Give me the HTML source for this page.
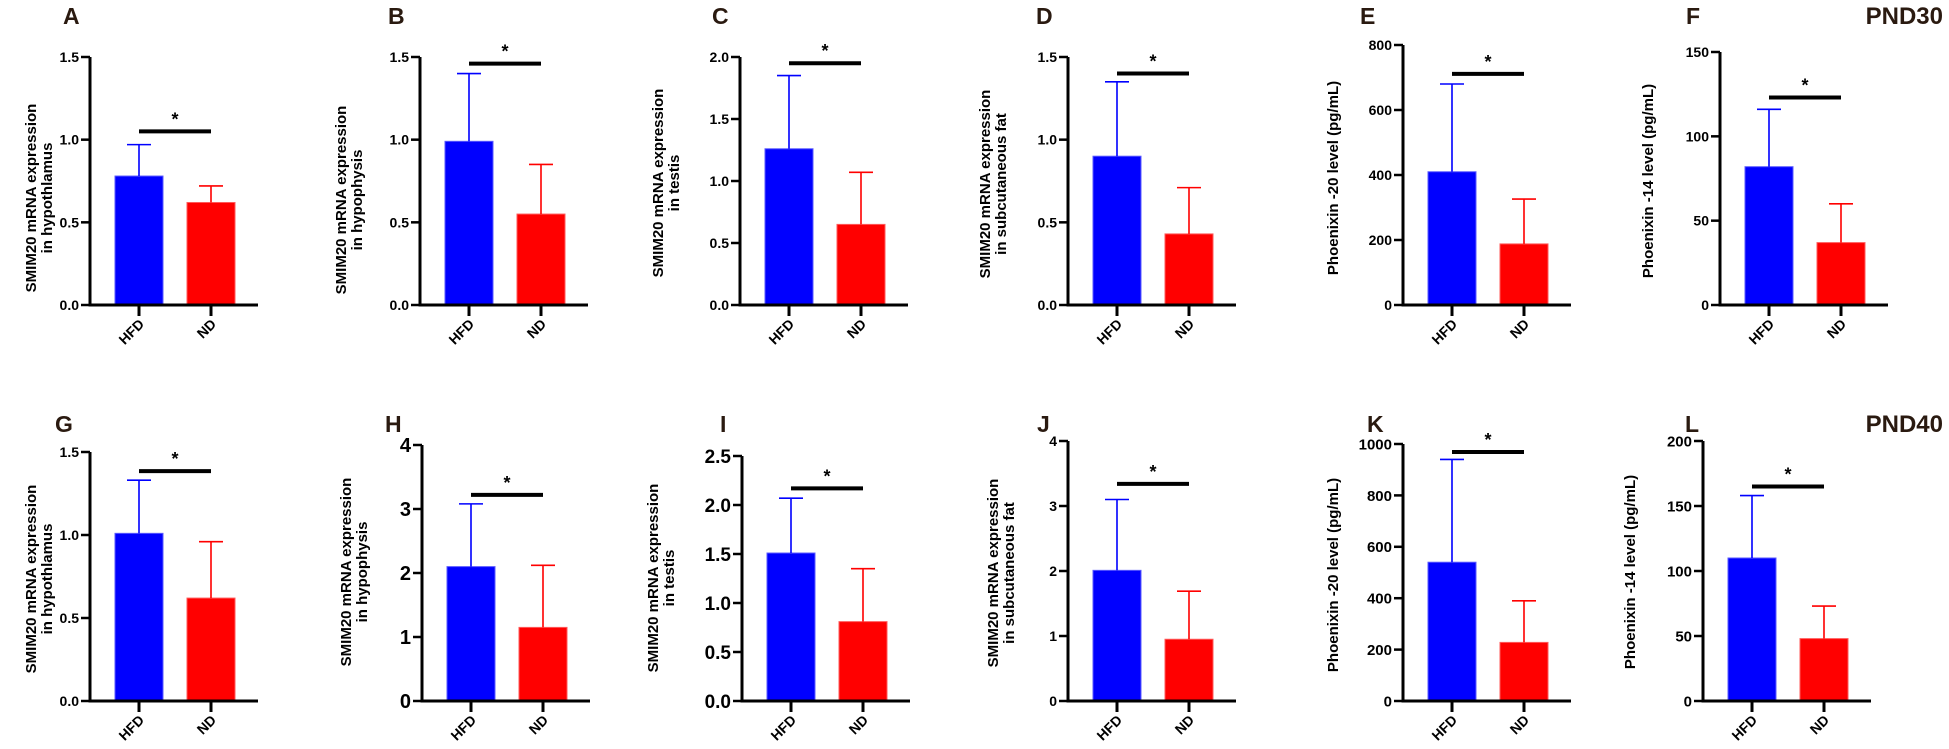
<!DOCTYPE html>
<html><head><meta charset="utf-8">
<style>
html,body{margin:0;padding:0;background:#fff;}
svg{display:block;font-family:"Liberation Sans",Arial,sans-serif;}
</style></head>
<body>
<svg id="fig" width="1949" height="749" viewBox="0 0 1949 749" xmlns="http://www.w3.org/2000/svg"></svg>
<script>
// ---- data ----
const panelLetters = ["A","B","C","D","E","F","G","H","I","J","K","L"];
const categories = ["HFD","ND"];
const yMaxValues = [1.5,1.5,2.0,1.5,800,150,1.5,4,2.5,4,1000,200];
const yTickValues = [
 [0,0.5,1,1.5],[0,0.5,1,1.5],[0,0.5,1,1.5,2],[0,0.5,1,1.5],[0,200,400,600,800],[0,50,100,150],
 [0,0.5,1,1.5],[0,1,2,3,4],[0,0.5,1,1.5,2,2.5],[0,1,2,3,4],[0,200,400,600,800,1000],[0,50,100,150,200]];
const yTickLabels = [
 ["0.0","0.5","1.0","1.5"],["0.0","0.5","1.0","1.5"],["0.0","0.5","1.0","1.5","2.0"],["0.0","0.5","1.0","1.5"],["0","200","400","600","800"],["0","50","100","150"],
 ["0.0","0.5","1.0","1.5"],["0","1","2","3","4"],["0.0","0.5","1.0","1.5","2.0","2.5"],["0","1","2","3","4"],["0","200","400","600","800","1000"],["0","50","100","150","200"]];
const hfdMean = [0.78,0.99,1.26,0.90,410,82, 1.01,2.10,1.51,2.01,540,110];
const hfdErr  = [0.97,1.40,1.85,1.35,680,116, 1.33,3.08,2.07,3.10,940,158];
const ndMean  = [0.62,0.55,0.65,0.43,188,37, 0.62,1.15,0.81,0.95,228,48];
const ndErr   = [0.72,0.85,1.07,0.71,326,60, 0.96,2.12,1.35,1.69,390,73];
const sigLevel = [1.05,1.46,1.95,1.40,711,123, 1.385,3.22,2.17,3.34,969,165];
const titleLine1 = ["SMIM20 mRNA expression","SMIM20 mRNA expression","SMIM20 mRNA expression","SMIM20 mRNA expression","Phoenixin -20 level  (pg/mL)","Phoenixin -14 level  (pg/mL)",
 "SMIM20 mRNA expression","SMIM20 mRNA expression","SMIM20 mRNA expression","SMIM20 mRNA expression","Phoenixin -20 level  (pg/mL)","Phoenixin -14 level  (pg/mL)"];
const titleLine2 = ["in hypothlamus","in hypophysis","in testis","in subcutaneous fat","","",
 "in hypothlamus","in hypophysis","in  testis","in subcutaneous fat","",""];

// ---- layout (not data) ----
const axisXs = [90,420,740,1068,1403,1720, 90,422,742,1068,1403,1703];
const topYs = [57,57,57,57,45,52, 452,445,456,441,444,441];
const botYs = [305,305,305,305,305,305, 701,701,701,701,701,701];
const tickFont = [14,14,14,14,14,14, 14,20,19,14,15,15];
const titleXs = [31,341,658,985,1333,1648, 31,346,653,993,1333,1630];
const titleCYs = [198,200,183,184,178,181, 579,572,578,573,575,572];
const letterXs = [63,388,712,1036,1360,1686, 55,385,720,1037,1367,1685];

const NS="http://www.w3.org/2000/svg";
const svg=document.getElementById('fig');
function mk(tag,attrs,parent){const e=document.createElementNS(NS,tag);for(const k in attrs)e.setAttribute(k,attrs[k]);(parent||svg).appendChild(e);return e;}

for(let i=0;i<12;i++){
  const g=mk('g',{});
  
  
  const ax=axisXs[i], top=topYs[i], bot=botYs[i], ymax=yMaxValues[i];
  const y=v=>bot-(v/ymax)*(bot-top);
  const right=ax+168;
  const barW=48;
  const xs=[ax+25, ax+97];
  const centers=[xs[0]+barW/2, xs[1]+barW/2];
  const L=mk('text',{x:letterXs[i],y:i<6?24:432,'font-size':23,'font-weight':'bold',fill:'#2a1a10'},g);
  L.textContent=panelLetters[i];
  
  
  const means=[hfdMean[i],ndMean[i]], errs=[hfdErr[i],ndErr[i]];
  const fills=['#0000ff','#ff0000'], strokes=['#5a5aff','#ff5a5a'];
  for(let b=0;b<2;b++){
    const r=mk('rect',{x:xs[b],y:y(means[b]),width:barW,height:bot-y(means[b]),fill:fills[b],stroke:strokes[b],'stroke-width':1},g);
    
    
    const e=mk('path',{d:`M${centers[b]} ${y(means[b])}V${y(errs[b])}M${centers[b]-12} ${y(errs[b])}H${centers[b]+12}`,stroke:fills[b],'stroke-width':1.6,fill:'none'},g);
    
    
  }
  const axes=mk('path',{d:`M${ax} ${top}V${bot}H${right}`,stroke:'#000','stroke-width':3,fill:'none'},g);
  
  
  yTickValues[i].forEach((v,k)=>{
    const t=mk('line',{x1:ax-9,x2:ax,y1:y(v),y2:y(v),stroke:'#000','stroke-width':2.5},g);
    
    
    const tl=mk('text',{x:ax-11,y:y(v)+tickFont[i]*0.36,'text-anchor':'end','font-size':tickFont[i],'font-weight':'bold'},g);
    tl.textContent=yTickLabels[i][k];
    
    
  });
  categories.forEach((c,b)=>{
    const t=mk('line',{x1:centers[b],x2:centers[b],y1:bot,y2:bot+11,stroke:'#000','stroke-width':3},g);
    
    
    const tx=centers[b]+6, ty=bot+20;
    const tl=mk('text',{x:tx,y:ty,'text-anchor':'end','font-size':14,'font-weight':'bold',transform:`rotate(-45 ${tx} ${ty})`},g);
    tl.textContent=c;
    
    
  });
  const tx=titleXs[i], cy=titleCYs[i];
  const tt=mk('text',{x:0,y:0,'text-anchor':'middle','font-size':15,'font-weight':'bold',transform:`translate(${tx+5} ${cy}) rotate(-90)`},g);
  
  
  const s1=mk('tspan',{x:0,dy:0},tt); s1.textContent=titleLine1[i];
  if(titleLine2[i]){const s2=mk('tspan',{x:0,dy:16},tt); s2.textContent=titleLine2[i];}
  const sy=y(sigLevel[i]);
  const sb=mk('line',{x1:centers[0],x2:centers[1],y1:sy,y2:sy,stroke:'#000','stroke-width':4},g);
  
  
  const st=mk('text',{x:(centers[0]+centers[1])/2,y:sy-6,'text-anchor':'middle','font-size':18,'font-weight':'bold'},g);
  st.textContent='*';
  
  
}
const p1=mk('text',{x:1943,y:24,'text-anchor':'end','font-size':24,'font-weight':'bold',fill:'#2a1a10'});
p1.textContent='PND30';


const p2=mk('text',{x:1943,y:432,'text-anchor':'end','font-size':24,'font-weight':'bold',fill:'#2a1a10'});
p2.textContent='PND40';


</script>
</body></html>
